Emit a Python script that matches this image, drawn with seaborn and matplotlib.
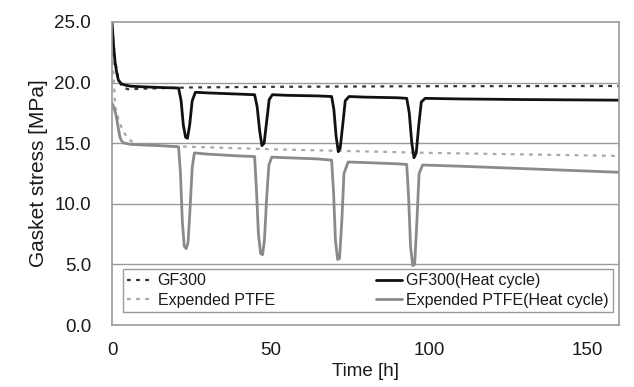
import numpy as np
import pandas as pd
import matplotlib
matplotlib.use("Agg")
import matplotlib.pyplot as plt
from matplotlib.ticker import MultipleLocator, FormatStrFormatter
import seaborn as sns

# ---- data ----
gf_hc_t = [0, 0.5, 1, 1.5, 2, 3, 4, 6, 10, 15, 21.0, 21.8, 22.5, 23.2, 23.8, 24.5, 25.3, 26.3,
           30, 40, 45.0, 45.8, 46.6, 47.3, 48.0, 48.8, 49.6, 50.6,
           55, 65, 69.3, 70.0, 70.7, 71.4, 72.0, 72.8, 73.6, 74.8,
           80, 90, 93.0, 93.8, 94.6, 95.3, 96.0, 96.8, 97.6, 98.8, 110, 130, 160]
gf_hc_v = [25.0, 23.0, 21.6, 20.8, 20.2, 19.9, 19.8, 19.7, 19.65, 19.6, 19.55, 18.5, 16.5, 15.5, 15.4, 16.5, 18.5, 19.2,
           19.15, 19.05, 19.0, 18.0, 16.0, 14.8, 15.0, 16.8, 18.6, 19.0,
           18.95, 18.9, 18.85, 17.8, 15.6, 14.3, 14.6, 16.5, 18.5, 18.85,
           18.8, 18.75, 18.7, 17.5, 15.0, 13.8, 14.2, 16.5, 18.4, 18.7, 18.65, 18.6, 18.55]

ptfe_hc_t = [0, 0.5, 1, 1.5, 2, 2.5, 3, 3.5, 4, 6, 10, 15, 21, 21.6, 22.2, 22.8, 23.4, 24.0, 24.6, 25.3, 26.0,
             30, 40, 45, 45.6, 46.2, 46.9, 47.5, 48.1, 48.8, 49.5, 50.4,
             55, 65, 69.3, 69.9, 70.5, 71.2, 71.8, 72.5, 73.2, 74.5,
             80, 90, 93, 93.6, 94.2, 94.9, 95.5, 96.2, 96.9, 98.0, 110, 130, 160]
ptfe_hc_v = [18.3, 18.0, 17.6, 17.0, 16.2, 15.5, 15.2, 15.05, 15.0, 14.9, 14.85, 14.8, 14.7, 12.5, 8.5, 6.5, 6.3, 6.8, 9.5, 13.0, 14.2,
             14.1, 13.95, 13.9, 11.0, 7.5, 5.9, 5.8, 7.0, 10.5, 13.2, 13.85,
             13.8, 13.7, 13.6, 11.0, 7.0, 5.4, 5.5, 8.5, 12.5, 13.45,
             13.4, 13.3, 13.25, 10.5, 6.5, 4.9, 5.0, 8.5, 12.5, 13.2, 13.1, 12.9, 12.6]

gf_t = [0, 1, 2, 3, 5, 10, 25, 50, 100, 160]
gf_v = [24.5, 21.8, 20.3, 19.7, 19.45, 19.5, 19.6, 19.65, 19.7, 19.72]

ptfe_t = [0, 0.5, 1, 2, 3, 4, 5, 7, 10, 25, 50, 100, 160]
ptfe_v = [22.5, 20.5, 18.0, 17.0, 16.3, 15.8, 15.4, 15.0, 14.85, 14.7, 14.5, 14.2, 13.95]

labels = ["GF300", "Expended PTFE", "GF300(Heat cycle)", "Expended PTFE(Heat cycle)"]
x_ticks = [0, 50, 100, 150]
y_ticks = [0, 5, 10, 15, 20, 25]

# ---- style ----
sns.set_theme(style="white")
plt.rcParams["font.family"] = ["Liberation Sans", "DejaVu Sans"]

fig = plt.figure(figsize=(6.34, 3.87), dpi=100)
ax = fig.add_axes([0.1767, 0.1602, 0.7997, 0.783])

spine_c = "#9a9a9a"
txt_c = "#1a1a1a"
ax.set_axisbelow(True)
for yv in y_ticks[1:-1]:
    ax.axhline(yv, color=spine_c, lw=1.0, zorder=0)

sns.lineplot(x=gf_t, y=gf_v, ax=ax, color="#333333", lw=1.6,
             linestyle=(0, (1.7, 2.4)), label=labels[0], sort=False, estimator=None)
sns.lineplot(x=ptfe_t, y=ptfe_v, ax=ax, color="#a8a8a8", lw=1.6,
             linestyle=(0, (1.7, 2.4)), label=labels[1], sort=False, estimator=None)
sns.lineplot(x=gf_hc_t, y=gf_hc_v, ax=ax, color="#111111", lw=2.0,
             label=labels[2], sort=False, estimator=None)
sns.lineplot(x=ptfe_hc_t, y=ptfe_hc_v, ax=ax, color="#8a8a8a", lw=2.0,
             label=labels[3], sort=False, estimator=None)

ax.set_xlim(0, 160)
ax.set_ylim(0, 25)
ax.set_xticks(x_ticks)
ax.set_yticks(y_ticks)
ax.yaxis.set_major_formatter(FormatStrFormatter("%.1f"))
ax.xaxis.set_minor_locator(MultipleLocator(25))
ax.yaxis.set_minor_locator(MultipleLocator(2.5))

for s in ax.spines.values():
    s.set_color(spine_c)
    s.set_linewidth(1.2)

ax.tick_params(axis="both", which="both", direction="in", colors=spine_c,
               labelcolor=txt_c, labelsize=13.5)
ax.tick_params(axis="x", which="both", length=4, width=1, pad=12)
ax.tick_params(axis="y", which="major", length=0, pad=15)
ax.tick_params(axis="y", which="minor", length=4, width=1)

ax.set_xlabel("Time [h]", fontsize=13.5, color=txt_c, labelpad=3)
ax.set_ylabel("Gasket stress [MPa]", fontsize=15, color=txt_c, labelpad=5)

leg = ax.legend(loc="lower left", bbox_to_anchor=(0.022, 0.043, 0.966, 0.152),
                mode="expand", ncol=2, fontsize=11.5, frameon=True, fancybox=False,
                edgecolor=spine_c, framealpha=1, handlelength=1.6, handletextpad=0.3,
                labelspacing=0.3, borderpad=0.25, borderaxespad=0)
leg.get_frame().set_linewidth(1.0)
for t in leg.get_texts():
    t.set_color(txt_c)

fig.savefig("out.png", dpi=100)
